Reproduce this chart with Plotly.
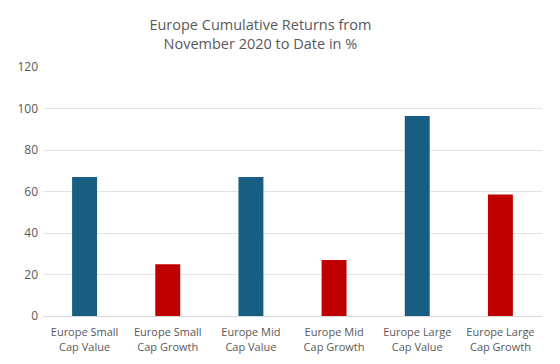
import plotly.graph_objects as go

categories = ["Europe Small<br>Cap Value", "Europe Small<br>Cap Growth", "Europe Mid<br>Cap Value",
              "Europe Mid<br>Cap Growth", "Europe Large<br>Cap Value", "Europe Large<br>Cap Growth"]
returns = [67, 25, 67, 27, 96.4, 58.6]
colors = ["#185E82", "#C00000", "#185E82", "#C00000", "#185E82", "#C00000"]
y_ticks = [0, 20, 40, 60, 80, 100, 120]

fig = go.Figure(go.Bar(x=categories, y=returns, marker=dict(color=colors, line=dict(width=0)),
                       hoverinfo="skip"))
fig.update_layout(
    width=560, height=364,
    margin=dict(l=43, r=18, t=67, b=48),
    paper_bgcolor="white", plot_bgcolor="white",
    bargap=0.7,
    showlegend=False,
    font=dict(family="Open Sans, Noto Sans, sans-serif", color="#595959", size=11),
    title=dict(text="Europe Cumulative Returns from<br>November 2020 to Date in %",
               x=0.465, xanchor="center", y=0.918, yanchor="top",
               font=dict(size=14.5, color="#595959")),
)
fig.update_yaxes(range=[0, 120], tickvals=y_ticks, showgrid=True, gridcolor="#E3E3E3",
                 gridwidth=1, zeroline=False, showline=False, ticks="", ticklabelstandoff=4,
                 automargin=False, tickfont=dict(size=12, color="#595959"))
fig.update_xaxes(showline=True, linecolor="#D9D9D9", linewidth=1, ticks="", automargin=False,
                 ticklabelstandoff=6, tickfont=dict(size=11, color="#595959"))
fig.write_html("out.html", config={"displayModeBar": False},
               post_script="document.body.style.margin='0';document.body.style.padding='0';")
